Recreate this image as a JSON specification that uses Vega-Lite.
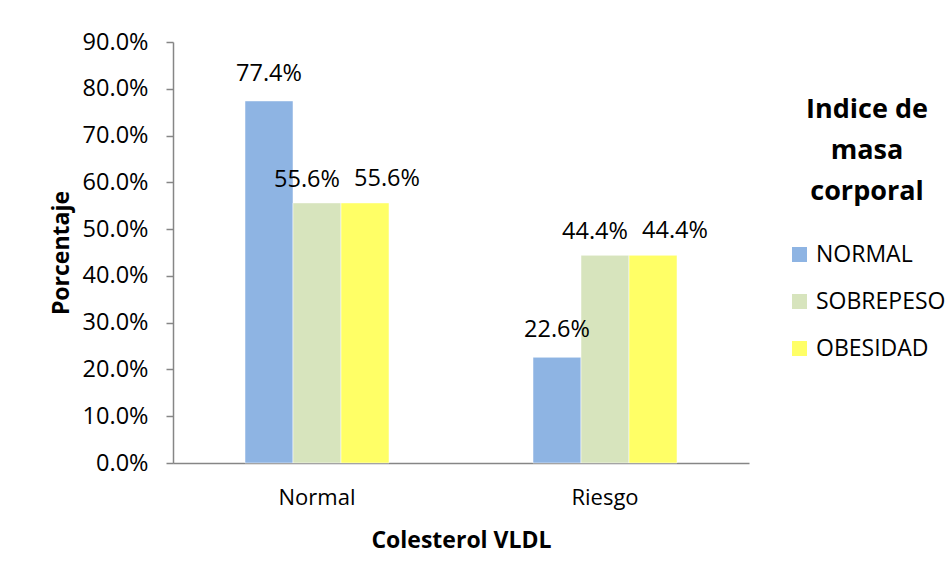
{
  "$schema": "https://vega.github.io/schema/vega-lite/v6.json",
  "autosize": {"type": "none"},
  "width": 576,
  "height": 421,
  "padding": {"left": 173, "top": 42, "right": 203, "bottom": 117},
  "background": "white",
  "config": {
    "font": "Open Sans",
    "view": {"stroke": null},
    "axis": {"grid": false, "domainColor": "#868686", "tickColor": "#868686", "labelColor": "#000000", "titleColor": "#000000", "labelFont": "Open Sans", "titleFont": "Open Sans"},
    "legend": {"labelFont": "Open Sans", "titleFont": "Open Sans"}
  },
  "data": {
    "values": [
      {"colesterol": "Normal", "imc": "NORMAL", "pct": 0.774},
      {"colesterol": "Normal", "imc": "SOBREPESO", "pct": 0.556},
      {"colesterol": "Normal", "imc": "OBESIDAD", "pct": 0.556},
      {"colesterol": "Riesgo", "imc": "NORMAL", "pct": 0.226},
      {"colesterol": "Riesgo", "imc": "SOBREPESO", "pct": 0.444},
      {"colesterol": "Riesgo", "imc": "OBESIDAD", "pct": 0.444}
    ]
  },
  "encoding": {
    "x": {
      "field": "colesterol", "type": "nominal",
      "scale": {"paddingInner": 0.5, "paddingOuter": 0.25},
      "axis": {"title": "Colesterol VLDL", "labelAngle": 0, "ticks": false, "labelFontSize": 22, "labelPadding": 24, "titleFontSize": 23, "titleFontWeight": "bold", "titlePadding": 21, "domainWidth": 1.5}
    },
    "xOffset": {"field": "imc", "type": "nominal", "sort": ["NORMAL", "SOBREPESO", "OBESIDAD"], "scale": {"paddingInner": 0, "paddingOuter": 0}},
    "y": {
      "field": "pct", "type": "quantitative",
      "scale": {"domain": [0, 0.9]},
      "axis": {"title": "Porcentaje", "format": ".1%", "values": [0, 0.1, 0.2, 0.3, 0.4, 0.5, 0.6, 0.7, 0.8, 0.9], "tickSize": 7, "labelPadding": 18, "labelFontSize": 23.5, "titleFontSize": 23, "titleFontWeight": "bold", "titlePadding": 9, "domainWidth": 1.5, "tickWidth": 1.5}
    }
  },
  "layer": [
    {
      "mark": {"type": "bar", "stroke": "white", "strokeWidth": 0.5},
      "encoding": {
        "color": {
          "field": "imc", "type": "nominal",
          "sort": ["NORMAL", "SOBREPESO", "OBESIDAD"],
          "scale": {"domain": ["NORMAL", "SOBREPESO", "OBESIDAD"], "range": ["#8EB4E3", "#D7E4BD", "#FFFF66"]},
          "legend": {
            "title": ["Indice de", "masa", "corporal"],
            "orient": "none", "legendX": 615, "legendY": 55,
            "titleFontSize": 27, "titleFontWeight": "bold", "titleAlign": "center", "titleAnchor": "middle", "titleLineHeight": 41, "titlePadding": 37,
            "symbolType": "square", "symbolSize": 225, "symbolStrokeWidth": 0,
            "labelFontSize": 23, "labelOffset": 5, "rowPadding": 23, "labelColor": "#000000", "titleColor": "#000000"
          }
        }
      }
    },
    {
      "transform": [{"filter": "datum.imc === 'NORMAL'"}],
      "mark": {"type": "text", "baseline": "middle", "dy": -27, "fontSize": 23.5, "color": "#000000", "font": "Open Sans"},
      "encoding": {
        "text": {"field": "pct", "type": "quantitative", "format": ".1%"}
      }
    },
    {
      "transform": [{"filter": "datum.imc === 'SOBREPESO'"}],
      "mark": {"type": "text", "baseline": "middle", "dx": -10, "dy": -23, "fontSize": 23.5, "color": "#000000", "font": "Open Sans"},
      "encoding": {
        "text": {"field": "pct", "type": "quantitative", "format": ".1%"}
      }
    },
    {
      "transform": [{"filter": "datum.imc === 'OBESIDAD'"}],
      "mark": {"type": "text", "baseline": "middle", "dx": 22, "dy": -24, "fontSize": 23.5, "color": "#000000", "font": "Open Sans"},
      "encoding": {
        "text": {"field": "pct", "type": "quantitative", "format": ".1%"}
      }
    }
  ]
}
